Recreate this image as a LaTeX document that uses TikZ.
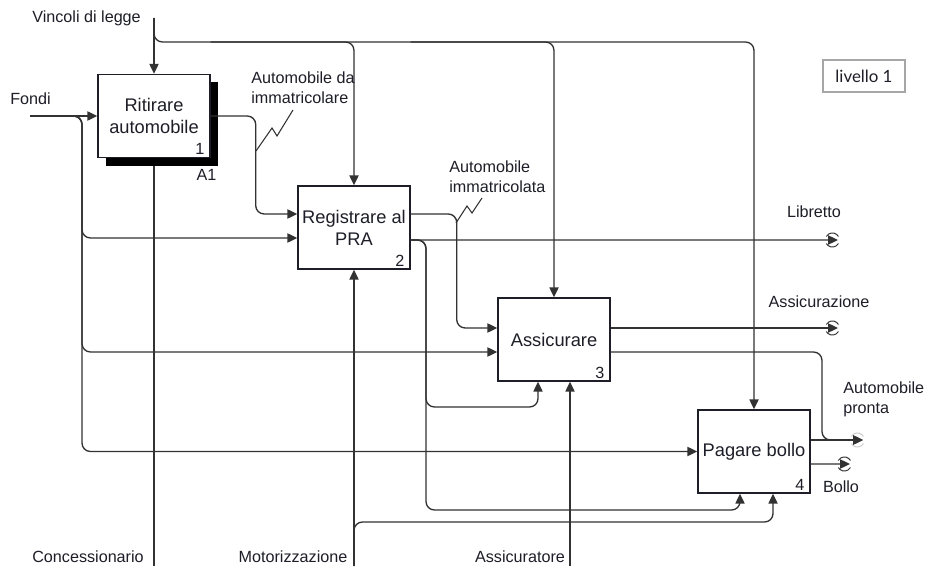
\documentclass[tikz,border=0pt]{standalone}
\usepackage{fontspec}
\setmainfont{Liberation Sans}
\newfontfamily\levelfont{Lato}
\usetikzlibrary{arrows.meta, calc, shadows}
\definecolor{lineg}{RGB}{50, 50, 50}
\definecolor{inkd}{RGB}{30, 30, 40}

\tikzset{
  fbox/.style={draw=inkd, line width=1pt, fill=white, minimum width=2.8cm, minimum height=2.075cm,
    align=center, inner sep=1pt, text=inkd, font=\fontsize{13}{15.5}\selectfont},
  flow/.style={draw=lineg, line width=0.95pt, rounded corners=6pt, -{Triangle[length=7pt, width=6.5pt]}},
  plain/.style={draw=lineg, line width=0.95pt, rounded corners=6pt},
  squig/.style={draw=lineg, line width=0.75pt},
  lbl/.style={inner sep=0pt, text=inkd, font=\fontsize{11.5}{14}\selectfont},
  num/.style={inner sep=0pt, text=inkd, font=\fontsize{11.5}{13}\selectfont},
  tunnel/.pic={
    \draw[lineg, line width=0.7pt] (-4pt,0) ++(30:5pt) arc[start angle=30, end angle=150, radius=5pt];
    \draw[lineg, line width=0.7pt] (-4pt,0) ++(210:5pt) arc[start angle=210, end angle=330, radius=5pt];
  }
}

\begin{document}
\begin{tikzpicture}[x=0.025cm, y=-0.025cm]
  \fill[white] (0,0) rectangle (928,566);

  % activity boxes
  \node[fbox, drop shadow={shadow xshift=0.2cm, shadow yshift=-0.2cm, fill=black, opacity=1}] (b1) at (154,116) {Ritirare\\automobile};
  \node[fbox] (b2) at (354,227.5) {Registrare al\\PRA};
  \node[fbox] (b3) at (554,339.5) {Assicurare};
  \node[fbox] (b4) at (754,451.5) {Pagare bollo};

  \node[num, anchor=south east] (n1) at ($(b1.south east)+(-6,-3)$) {1};
  \node[num, anchor=south east] (n2) at ($(b2.south east)+(-6,-3)$) {2};
  \node[num, anchor=south east] (n3) at ($(b3.south east)+(-6,-3)$) {3};
  \node[num, anchor=south east] (n4) at ($(b4.south east)+(-6,-3)$) {4};
  \node[num, anchor=north east] (a1) at ($(b1.south east)+(6,11)$) {A1};

  % sides of the boxes
  \coordinate (b2in1) at ($(b2.west)+(0,-13.5)$);
  \coordinate (b2in2) at ($(b2.west)+(0,10.5)$);
  \coordinate (b2out1) at ($(b2.east)+(0,-13.5)$);
  \coordinate (b2out2) at ($(b2.east)+(0,12.5)$);
  \coordinate (b3in1) at ($(b3.west)+(0,-11.5)$);
  \coordinate (b3in2) at ($(b3.west)+(0,12.5)$);
  \coordinate (b3out1) at ($(b3.east)+(0,-11.5)$);
  \coordinate (b3out2) at ($(b3.east)+(0,12.5)$);
  \coordinate (b3ctl1) at ($(b3.south)+(-16,0)$);
  \coordinate (b3ctl2) at ($(b3.south)+(16,0)$);
  \coordinate (b4out1) at ($(b4.east)+(0,-11.5)$);
  \coordinate (b4out2) at ($(b4.east)+(0,12.5)$);
  \coordinate (b4ctl1) at ($(b4.south)+(-14,0)$);
  \coordinate (b4ctl2) at ($(b4.south)+(19,0)$);

  % free ends and bends
  \coordinate (vin) at (154,18);
  \coordinate (vtop) at (754,42);
  \coordinate (fondi) at (30,116);
  \coordinate (fx) at (82,116);
  \coordinate (lowA) at (426,407);
  \coordinate (lowB) at (426,510);
  \coordinate (motor) at (354,566);
  \coordinate (motc) at (773,522);
  \coordinate (conc) at (154,566);
  \coordinate (assic) at (570,566);
  \coordinate (pj) at (822,440);
  \coordinate (libend) at (838,240);
  \coordinate (assend) at (838,328);
  \coordinate (prontend) at (863,440);
  \coordinate (bolend) at (850,464);

  % controls
  \draw[flow] (vin) -- (b1.north);
  \draw[flow] (vin) |- (vtop) -- (b4.north);
  \draw[flow] (vtop -| b1.east) -| (b2.north);
  \draw[flow] (vtop -| b2.east) -| (b3.north);

  % inputs
  \draw[flow] (fondi) -- (b1.west);
  \draw[flow] (fondi) -| (fx |- b2in2) -- (b2in2);
  \draw[flow] (fondi) -| (fx |- b3in2) -- (b3in2);
  \draw[flow] (fondi) -| (fx |- b4.west) -- (b4.west);
  \draw[flow] (b1.east) -- ++(45,0) |- (b2in1);
  \draw[flow] (b2out1) -- ++(46,0) |- (b3in1);

  % mechanisms
  \draw[plain] (conc) -- ($(b1.south)+(0,8)$);
  \draw[flow] (motor) -- (b2.south);
  \draw[flow] (motor) |- (motc) -- (b4ctl2);
  \draw[flow] (assic) -- (b3ctl2);
  \draw[flow] (b2out2) -| (lowA) -| (b3ctl1);
  \draw[flow] (b2out2) -| (lowB) -| (b4ctl1);

  % outputs
  \draw[flow] (b2out2) -- (libend);
  \draw[flow] (b3out1) -- (assend);
  \draw[flow] (b3out2) -| (pj) -- (prontend);
  \draw[flow] (b4out1) -- (prontend);
  \draw[flow] (b4out2) -- (bolend);
  \pic at (libend) {tunnel};
  \pic at (assend) {tunnel};
  \pic at (bolend) {tunnel};
  \pic[opacity=0.25] at (prontend) {tunnel};

  % labels
  \node[lbl, anchor=west] (vinc) at (32,18) {Vincoli di legge};
  \node[lbl, anchor=west] (fondil) at (10,99) {Fondi};
  \node[lbl, anchor=west, align=left] (ada) at (251,88) {Automobile da\\immatricolare};
  \node[lbl, anchor=west, align=left] (aimm) at (449,177) {Automobile\\immatricolata};
  \node[lbl] (lib) at (814,212) {Libretto};
  \node[lbl] (assz) at (819,302) {Assicurazione};
  \node[lbl, anchor=west, align=left] (pronta) at (843,399) {Automobile\\pronta};
  \node[lbl] (bol) at (841,487) {Bollo};
  \node[lbl] (concl) at (88,557) {Concessionario};
  \node[lbl] (motl) at (293,557) {Motorizzazione};
  \node[lbl] (assl) at (520,557) {Assicuratore};

  % squiggles from labels to arrows
  \draw[squig] (293,110) -- (277,136) -- (272,128) -- (256,151);
  \draw[squig] (482,198) -- (472,213) -- (467,206) -- (456,223);

  \node[draw=gray!70, line width=0.8pt, minimum width=2.05cm, minimum height=0.8cm, text=inkd,
    font=\levelfont\fontsize{12}{14}\selectfont] (lev) at (864,76) {livello 1};
\end{tikzpicture}
\end{document}
